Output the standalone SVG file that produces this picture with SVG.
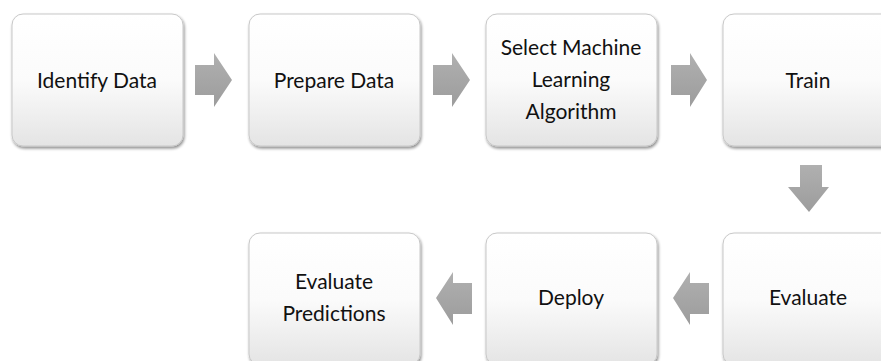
<svg xmlns="http://www.w3.org/2000/svg" width="881" height="361" viewBox="0 0 881 361">
<defs>
<linearGradient id="boxg" x1="0" y1="0" x2="0" y2="1">
<stop offset="0" stop-color="#ffffff"/>
<stop offset="0.5" stop-color="#fbfbfb"/>
<stop offset="1" stop-color="#e4e4e4"/>
</linearGradient>
<linearGradient id="arrg" x1="0" y1="0" x2="0" y2="1">
<stop offset="0" stop-color="#b0b0b0"/>
<stop offset="1" stop-color="#9c9c9c"/>
</linearGradient>
<filter id="sh" x="-10%" y="-10%" width="125%" height="125%">
<feGaussianBlur in="SourceAlpha" stdDeviation="1.5"/>
<feOffset dx="1" dy="2" result="b"/>
<feComponentTransfer><feFuncA type="linear" slope="0.45"/></feComponentTransfer>
<feMerge><feMergeNode/><feMergeNode in="SourceGraphic"/></feMerge>
</filter>
<filter id="soft"><feGaussianBlur stdDeviation="0.6"/></filter>
</defs>
<style>
.box{fill:url(#boxg);stroke:#c8c8c8;stroke-width:1;filter:url(#sh)}
.t{font-family:Lato,"Open Sans","Liberation Sans",sans-serif;font-size:21px;fill:#111;text-anchor:middle}
.arr{fill:url(#arrg);filter:url(#soft)}
</style>
<g id="connectors">
<polygon class="arr" points="195,65 214,65 214,53 232,80 214,107 214,95 195,95"/>
<polygon class="arr" points="433,65 452,65 452,53 470,80 452,107 452,95 433,95"/>
<polygon class="arr" points="671,65 690,65 690,53 707,80 690,107 690,95 671,95"/>
<polygon class="arr" points="800,165 822,165 822,187 829,187 809,212 788,187 800,187"/>
<polygon class="arr" points="709,283 690,283 690,272 673,298 690,325 690,314 709,314"/>
<polygon class="arr" points="472,283 453,283 453,272 436,298 453,325 453,314 472,314"/>
</g>
<g id="n1"><rect class="box" x="12" y="14" width="171" height="132" rx="11"/><text class="t" x="97" y="88">Identify Data</text></g>
<g id="n2"><rect class="box" x="249" y="14" width="171" height="132" rx="11"/><text class="t" x="334" y="88">Prepare Data</text></g>
<g id="n3"><rect class="box" x="486" y="14" width="171" height="132" rx="11"/><text class="t" x="571" y="55">Select Machine</text><text class="t" x="571" y="87">Learning</text><text class="t" x="571" y="119">Algorithm</text></g>
<g id="n4"><rect class="box" x="723" y="14" width="171" height="132" rx="11"/><text class="t" x="808" y="88">Train</text></g>
<g id="n5"><rect class="box" x="723" y="233" width="171" height="132" rx="11"/><text class="t" x="808" y="305">Evaluate</text></g>
<g id="n6"><rect class="box" x="486" y="233" width="171" height="132" rx="11"/><text class="t" x="571" y="305">Deploy</text></g>
<g id="n7"><rect class="box" x="249" y="233" width="171" height="132" rx="11"/><text class="t" x="334" y="289">Evaluate</text><text class="t" x="334" y="321">Predictions</text></g>
</svg>
